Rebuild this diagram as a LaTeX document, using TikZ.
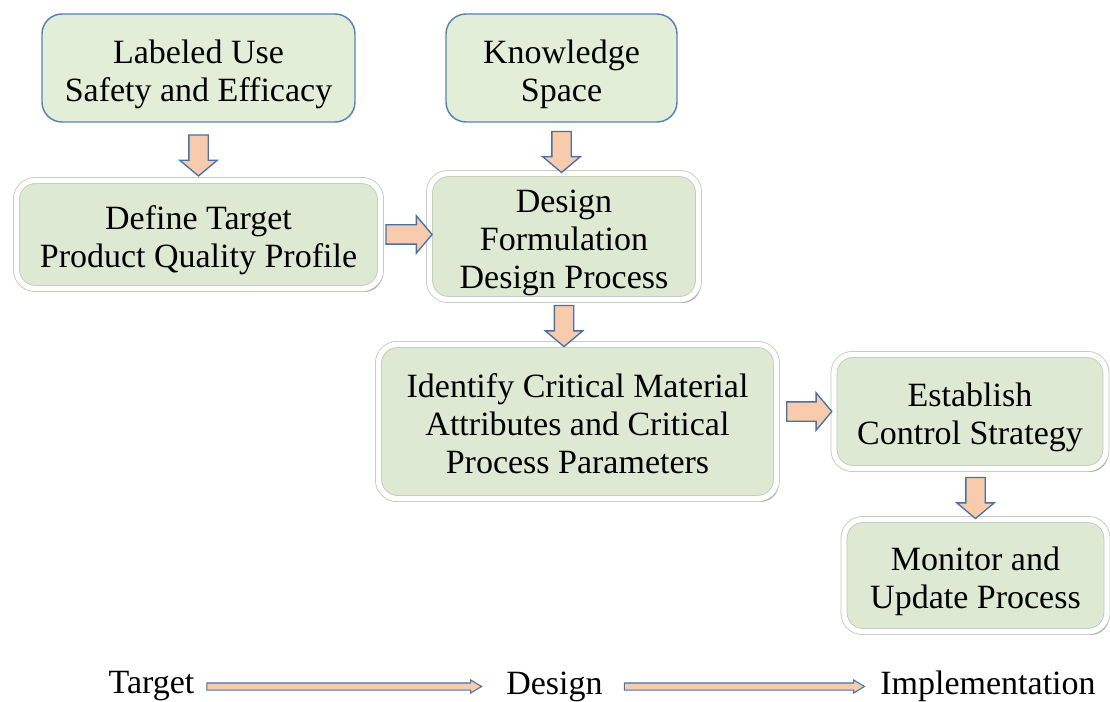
\documentclass[tikz,border=0pt]{standalone}
\usepackage{fontspec}
\setmainfont{Liberation Serif}
\usetikzlibrary{shapes.arrows,shadows}

\definecolor{boxgreen}{RGB}{222,233,211}
\definecolor{topgreen}{RGB}{227,238,217}
\definecolor{boxblue}{RGB}{84,130,186}
\definecolor{arrowfill}{RGB}{248,203,173}
\definecolor{arrowline}{RGB}{70,114,170}
\definecolor{frameline}{RGB}{190,200,182}

% pushes the first line of a box down a little
\newcommand{\tstrut}{\rule{0pt}{27pt}}

\begin{document}
\begin{tikzpicture}[x=0.75pt, y=-0.75pt,
    every node/.style={font=\fontsize{25.5}{28.5}\selectfont, align=center},
    topbox/.style={rectangle, rounded corners=15pt, fill=topgreen, draw=boxblue, line width=1.1pt, inner sep=0pt, minimum height=81pt},
    stepbox/.style={rectangle, rounded corners=14pt, fill=boxgreen, draw=frameline, double=white, double distance=4pt, line width=0.6pt, inner sep=0pt,
        drop shadow={shadow xshift=1.8pt, shadow yshift=-2.6pt, opacity=0.35, fill=black}},
    fatarrow/.style={single arrow, fill=arrowfill, draw=arrowline, line width=1pt, inner xsep=0pt, inner ysep=6.75pt, minimum height=30.75pt,
        single arrow head extend=6.75pt, single arrow tip angle=100, sloped, allow upside down},
    thinarrow/.style={single arrow, fill=arrowfill, draw=arrowline, line width=0.8pt, inner xsep=0pt, inner ysep=2.25pt,
        single arrow head extend=2.25pt, single arrow tip angle=62}]
    \useasboundingbox (0,0) rectangle (1110,702);

    % Inputs
    \node[topbox, minimum width=234.75pt] (lab) at (198.5,68) {\tstrut Labeled Use\\Safety and Efficacy};
    \node[topbox, minimum width=173.25pt] (know) at (561.5,68) {\tstrut Knowledge\\Space};

    % Steps
    \node[stepbox, minimum width=273pt, minimum height=81pt] (tpp) at (198.5,234.5) {\tstrut Define Target\\Product Quality Profile};
    \node[stepbox, minimum width=201.75pt, minimum height=94.5pt] (dfp) at (564,236.5) {\tstrut Design\\Formulation\\Design Process};
    \node[stepbox, minimum width=298.5pt, minimum height=115.5pt] (cma) at (577.5,421.5) {\rule{0pt}{21pt}Identify Critical Material\\Attributes and Critical\\Process Parameters};
    \node[stepbox, minimum width=204pt, minimum height=85.5pt] (ecs) at (970,411.5) {\tstrut Establish\\Control Strategy};
    \node[stepbox, minimum width=197.25pt, minimum height=84pt] (mup) at (975.5,575.5) {\tstrut Monitor and\\Update Process};

    % Block arrows between boxes
    \path (lab.south) -- (lab.south |- tpp.north) node[midway, fatarrow] {};
    \path (know.south) -- (know.south |- dfp.north) node[midway, fatarrow] {};
    \path (tpp.east) -- (tpp.east -| dfp.west) node[midway, fatarrow, minimum height=34.5pt] {};
    \path (dfp.south) -- (dfp.south |- cma.north) node[midway, fatarrow] {};
    \path (cma.east |- ecs.west) -- (ecs.west) node[midway, fatarrow, minimum height=33.75pt] {};
    \path (mup.north |- ecs.south) -- (mup.north) node[midway, fatarrow] {};

    % Phases along the bottom
    \node (tgt) at (151.5,686.5) {Target};
    \node (dsg) at (554.5,686.5) {Design};
    \node (imp) at (988,686.5) {Implementation};
    \path (tgt.east) -- (dsg.west) node[pos=0.47, thinarrow, minimum height=206pt] {};
    \path (dsg.east) -- (imp.west) node[midway, thinarrow, minimum height=180pt] {};
\end{tikzpicture}
\end{document}
